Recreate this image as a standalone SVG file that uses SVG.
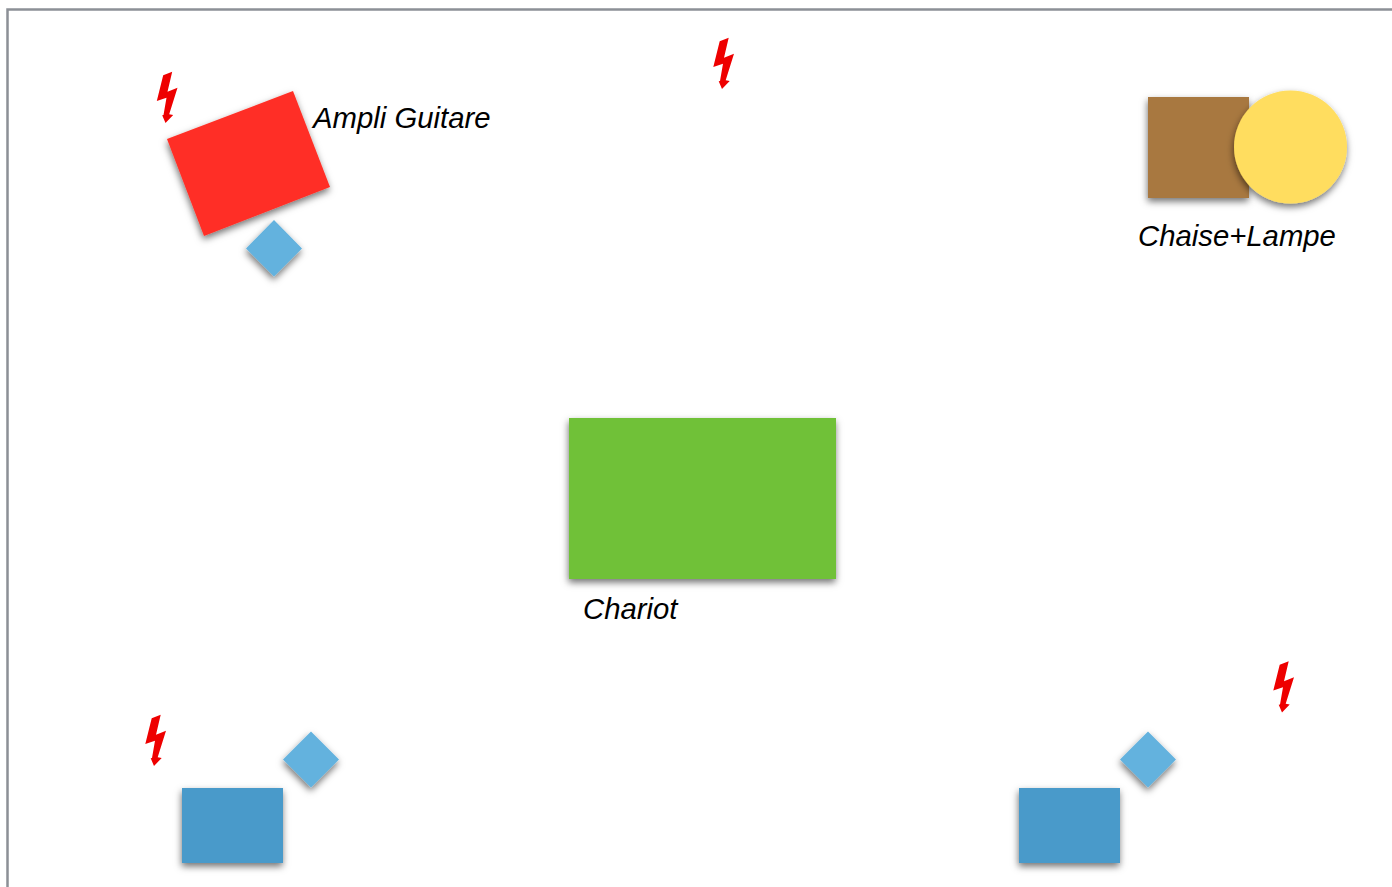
<svg xmlns="http://www.w3.org/2000/svg" width="1392" height="887" viewBox="0 0 1392 887">
<style>
.lbl{font-family:"Liberation Sans",Arial,sans-serif;font-style:italic;font-size:29.300px;fill:#000}
.s{filter:url(#sh)}
.bolt{fill:#ee0000;filter:url(#soft)}
.dia{fill:#63b2de}
.blue{fill:#4a9aca}
</style>
<defs>
<filter id="sh" x="-25%" y="-25%" width="150%" height="150%"><feDropShadow dx="-0.500" dy="3.500" stdDeviation="3.500" flood-color="#000" flood-opacity=".55"/></filter>
<filter id="soft" x="-20%" y="-20%" width="140%" height="140%"><feGaussianBlur stdDeviation=".5"/></filter>
<path id="b" d="M160.7 714.7L151.7 718.3L145.3 744L155 740.7L152 758L150.7 758.3L154 766L161.7 758L157.7 757.3L166 730.7L156 734.7Z"/>
</defs>
<rect width="1392" height="887" fill="#fff"/>
<path id="frame" d="M7.500 887V9.500H1392" fill="none" stroke="#8c9096" stroke-width="2.500"/>
<g id="connectors"/>
<g id="ampli"><polygon class="s" points="167,139 293,91 330,187 204,236" fill="#ff2f25"/><text class="lbl" x="313" y="128">Ampli Guitare</text></g>
<g id="diamond-ampli"><polygon class="s dia" points="274,220 302,248.500 274,276.500 246,248.500"/></g>
<g id="bolt-1"><use href="#b" class="bolt" x="11.500" y="-643"/></g>
<g id="bolt-2"><use href="#b" class="bolt" x="568" y="-677"/></g>
<g id="bolt-3"><use href="#b" class="bolt"/></g>
<g id="bolt-4"><use href="#b" class="bolt" x="1128" y="-53.500"/></g>
<g id="chaise"><rect class="s" x="1148" y="97" width="101" height="101" fill="#a87840"/></g>
<g id="lampe"><circle class="s" cx="1290.500" cy="147" r="56.500" fill="#ffdd5e"/><text class="lbl" x="1138" y="245.500">Chaise+Lampe</text></g>
<g id="chariot"><rect class="s" x="569" y="418" width="267" height="161" fill="#70c139"/><text class="lbl" x="583" y="619">Chariot</text></g>
<g id="ampli-left"><rect class="s blue" x="182" y="788" width="101" height="75"/></g>
<g id="diamond-left"><polygon class="s dia" points="311,731.500 339,759.500 311,787.500 283,759.500"/></g>
<g id="ampli-right"><rect class="s blue" x="1019" y="788" width="101" height="75"/></g>
<g id="diamond-right"><polygon class="s dia" points="1148,731.500 1176,759.500 1148,787.500 1120,759.500"/></g>
</svg>
